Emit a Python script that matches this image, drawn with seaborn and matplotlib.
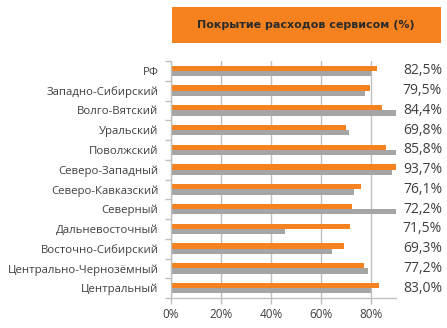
import matplotlib
matplotlib.use("Agg")
import matplotlib.pyplot as plt
import matplotlib.transforms as mtransforms
from matplotlib.patches import Rectangle
import seaborn as sns
import pandas as pd

regions = ["РФ", "Западно-Сибирский", "Волго-Вятский", "Уральский", "Поволжский",
           "Северо-Западный", "Северо-Кавказский", "Северный", "Дальневосточный",
           "Восточно-Сибирский", "Центрально-Чернозёмный", "Центральный"]
series_a = [82.5, 79.5, 84.4, 69.8, 85.8, 93.7, 76.1, 72.2, 71.5, 69.3, 77.2, 83.0]
series_b = [80.0, 77.6, 90.5, 71.3, 90.5, 88.5, 73.3, 90.5, 45.6, 64.4, 78.9, 80.0]
value_labels = ["82,5%", "79,5%", "84,4%", "69,8%", "85,8%", "93,7%",
                "76,1%", "72,2%", "71,5%", "69,3%", "77,2%", "83,0%"]
x_ticks = [0, 20, 40, 60, 80]
x_tick_labels = ["0%", "20%", "40%", "60%", "80%"]
title = "Покрытие расходов сервисом (%)"

df = pd.DataFrame({
    "region": regions * 2,
    "value": series_a + series_b,
    "series": ["A"] * len(regions) + ["B"] * len(regions),
})

sns.set_style("white")
plt.rcParams["font.family"] = ["Open Sans", "DejaVu Sans"]
orange = "#F5821F"
grey = "#A5A5A5"
text_c = "#3F3F3F"
axis_c = "#BFBFBF"

fig = plt.figure(figsize=(4.47, 3.28), dpi=100)
ax = fig.add_axes([171 / 447, 1 - 298 / 328, 225 / 447, 237 / 328])

sns.barplot(data=df, y="region", x="value", hue="series", orient="h",
            palette=[orange, grey], width=0.54, dodge=True, ax=ax,
            legend=False, saturation=1, linewidth=0, errorbar=None)

ax.set_xlim(0, 90)
ax.set_ylim(len(regions) - 0.5, -0.5)
ax.set_xlabel("")
ax.set_ylabel("")
ax.set_xticks(x_ticks)
ax.set_xticklabels(x_tick_labels, fontsize=8.5, color=text_c)
ax.tick_params(axis="x", length=4, width=1, color=axis_c, pad=3, direction="out", bottom=True)
ax.grid(axis="x", color=axis_c, linewidth=1)
ax.set_axisbelow(True)
ax.set_yticks(range(len(regions)))
ax.set_yticklabels(regions, fontsize=8.2, color=text_c)
ax.tick_params(axis="y", which="major", length=0, pad=9)
ax.set_yticks([i - 0.5 for i in range(len(regions) + 1)], minor=True)
ax.tick_params(axis="y", which="minor", length=4, width=1, color=axis_c, left=True)
for s in ["top", "right"]:
    ax.spines[s].set_visible(False)
for s in ["left", "bottom"]:
    ax.spines[s].set_color(axis_c)
    ax.spines[s].set_linewidth(1)

trans = mtransforms.blended_transform_factory(fig.transFigure, ax.transData)
for i, lab in enumerate(value_labels):
    ax.text(442 / 447, i, lab, transform=trans, ha="right", va="center",
            fontsize=10, color=text_c)

fig.patches.append(Rectangle((172 / 447, 1 - 43 / 328), 269 / 447, 36 / 328,
                             transform=fig.transFigure, facecolor=orange,
                             edgecolor="none", zorder=0))
fig.text(306 / 447, 1 - 25.5 / 328, title, ha="center", va="center",
         fontsize=8, fontweight="bold", color="#2B2B2B",
         family=["DejaVu Sans"])

fig.savefig("out.png", dpi=100)
